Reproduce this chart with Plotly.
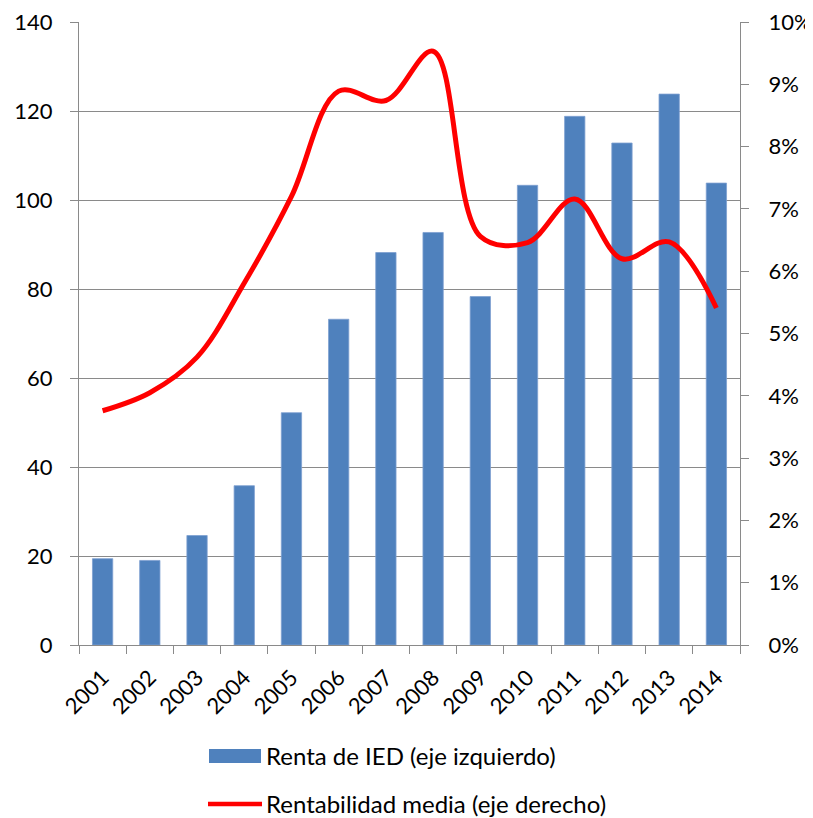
import plotly.graph_objects as go

years = ["2001", "2002", "2003", "2004", "2005", "2006", "2007",
         "2008", "2009", "2010", "2011", "2012", "2013", "2014"]
renta_ied = [19.4, 19.0, 24.6, 35.8, 52.2, 73.2, 88.2,
             92.7, 78.3, 103.3, 118.8, 112.8, 123.8, 103.8]
rentabilidad = [0.0376, 0.0405, 0.0462, 0.0581, 0.0720, 0.0889, 0.0874,
                0.0953, 0.0656, 0.0646, 0.0716, 0.0620, 0.0647, 0.0541]
left_ticks = [0, 20, 40, 60, 80, 100, 120, 140]
right_ticks = [0.0, 0.01, 0.02, 0.03, 0.04, 0.05, 0.06, 0.07, 0.08, 0.09, 0.10]
name_bar = "Renta de IED (eje izquierdo)"
name_line = "Rentabilidad media (eje derecho)"

OFF = 8  # default page body margin
W, H = 813 - OFF, 818 - OFF
ML, MR, MT, MB = 79 - OFF, 73, 22 - OFF, 173
PW = W - ML - MR
PH = H - MT - MB

FONT = "Lato, Open Sans, sans-serif"
GRID = "#8a8a8a"
BAR_C = "#4f81bd"
LINE_C = "#ff0000"


def px_x(x):
    return (x - OFF - ML) / PW


def px_y(y):
    return (H - MB - (y - OFF)) / PH


fig = go.Figure()
fig.add_trace(go.Bar(
    x=years, y=renta_ied, name=name_bar, marker_color=BAR_C,
    marker_line=dict(color="#7da0d0", width=0.8), yaxis="y", showlegend=False,
))
fig.add_trace(go.Scatter(
    x=years, y=rentabilidad, name=name_line, mode="lines",
    line=dict(color=LINE_C, width=5, shape="spline", smoothing=1.0),
    yaxis="y2", showlegend=False,
))

# custom legend (matches the reference's long symbols)
shapes = [
    dict(type="rect", xref="paper", yref="paper",
         x0=px_x(209), x1=px_x(261), y0=px_y(763), y1=px_y(749),
         fillcolor=BAR_C, line=dict(width=0)),
    dict(type="line", xref="paper", yref="paper",
         x0=px_x(208), x1=px_x(262), y0=px_y(804), y1=px_y(804),
         line=dict(color=LINE_C, width=4.5)),
]
annotations = [
    dict(text=name_bar, xref="paper", yref="paper", x=px_x(264), y=px_y(756),
         xanchor="left", yanchor="middle", showarrow=False,
         font=dict(family=FONT, size=24, color="#000000")),
    dict(text=name_line, xref="paper", yref="paper", x=px_x(264), y=px_y(803),
         xanchor="left", yanchor="middle", showarrow=False,
         font=dict(family=FONT, size=24, color="#000000")),
]

fig.update_layout(
    width=W, height=H,
    margin=dict(l=ML, r=MR, t=MT, b=MB, pad=0, autoexpand=False),
    paper_bgcolor="white", plot_bgcolor="white",
    font=dict(family=FONT, size=22, color="#000000"),
    bargap=0.57,
    showlegend=False,
    shapes=shapes,
    annotations=annotations,
    xaxis=dict(
        type="category", tickangle=-45, tickson="boundaries",
        ticks="outside", ticklen=8, tickcolor=GRID, tickwidth=1.3,
        showline=True, linecolor=GRID, linewidth=1.3,
        showgrid=False, tickfont=dict(size=22), automargin=False,
        ticklabeloverflow="allow", ticklabelstandoff=10,
    ),
    yaxis=dict(
        range=[0, 140], tickvals=left_ticks, ticks="outside", ticklen=8,
        tickcolor=GRID, tickwidth=1.3, showline=True, linecolor=GRID,
        linewidth=1.3, showgrid=True, gridcolor=GRID, gridwidth=1.3,
        zeroline=False, ticklabelstandoff=13, automargin=False,
        ticklabeloverflow="allow",
    ),
    yaxis2=dict(
        range=[0, 0.10], tickvals=right_ticks, tickformat=".0%",
        overlaying="y", side="right", ticks="outside", ticklen=8,
        tickcolor=GRID, tickwidth=1.3, showline=True, linecolor=GRID,
        linewidth=1.3, showgrid=False, zeroline=False, ticklabelstandoff=15,
        automargin=False, ticklabeloverflow="allow",
    ),
)

fig.write_html("out.html")
